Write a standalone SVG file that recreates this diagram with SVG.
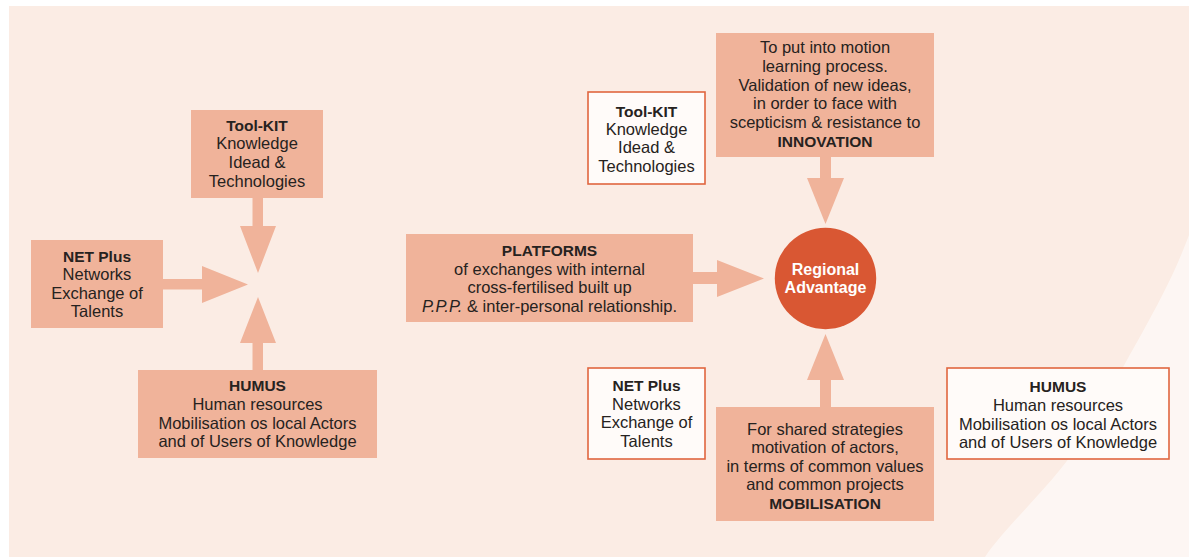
<svg xmlns="http://www.w3.org/2000/svg" width="1189" height="557" viewBox="0 0 1189 557">
<style>
  text { font-family: "Liberation Sans", Arial, sans-serif; font-size: 16.5px; fill: #262220; text-anchor: middle; }
  .b { font-weight: bold; font-size: 15.5px; }
  .w { fill: #ffffff; font-weight: bold; font-size: 16px; }
  .fill { fill: #f0b39a; }
  .outl { fill: #fffbf9; stroke: #e0663f; stroke-width: 1.6; }
  .arrow { fill: #f0b39a; }
</style>
<rect x="0" y="0" width="1189" height="557" fill="#ffffff"/>
<rect x="9" y="6" width="1180" height="551" fill="#fbece4"/>
<path d="M1189,235 C1165,300 1130,350 1095,420 C1060,480 1010,520 985,557 L1189,557 Z" fill="#ffffff" opacity="0.55"/>

<g id="connectors">
  <polygon class="arrow" points="252.5,197 263,197 263,226 276,226 258,273 240,226 252.5,226"/>
  <polygon class="arrow" points="163,279 202,279 202,266 248,284.5 202,303 202,289.5 163,289.5"/>
  <polygon class="arrow" points="252.5,371 263,371 263,343 276,343 258,297 240,343 252.5,343"/>
  <polygon class="arrow" points="820,156 831,156 831,178 844,178 825.5,224 807,178 820,178"/>
  <polygon class="arrow" points="693,272 717,272 717,260 764,278.5 717,297 717,284 693,284"/>
  <polygon class="arrow" points="820,408 831,408 831,380 844,380 825.5,334 807,380 820,380"/>
</g>

<g id="toolkit-left">
  <rect class="fill" x="191" y="110" width="132" height="88"/>
  <text x="257" y="130.5" class="b">Tool-KIT</text>
  <text x="257" y="149.3">Knowledge</text>
  <text x="257" y="168">Idead &amp;</text>
  <text x="257" y="186.7">Technologies</text>
</g>

<g id="netplus-left">
  <rect class="fill" x="31" y="240" width="132" height="88"/>
  <text x="97" y="261.5" class="b">NET Plus</text>
  <text x="97" y="280">Networks</text>
  <text x="97" y="298.7">Exchange of</text>
  <text x="97" y="317.3">Talents</text>
</g>

<g id="humus-left">
  <rect class="fill" x="138" y="370" width="239" height="88"/>
  <text x="257.5" y="390.7" class="b">HUMUS</text>
  <text x="257.5" y="409.6">Human resources</text>
  <text x="257.5" y="428.6">Mobilisation os local Actors</text>
  <text x="257.5" y="447.3">and of Users of Knowledge</text>
</g>

<g id="toolkit-right">
  <rect class="outl" x="588" y="92" width="117" height="92"/>
  <text x="646.5" y="116.5" class="b">Tool-KIT</text>
  <text x="646.5" y="134.8">Knowledge</text>
  <text x="646.5" y="153.3">Idead &amp;</text>
  <text x="646.5" y="171.8">Technologies</text>
</g>

<g id="innovation">
  <rect class="fill" x="716" y="33" width="218" height="124"/>
  <text x="825" y="53.3">To put into motion</text>
  <text x="825" y="71.8">learning process.</text>
  <text x="825" y="90.5">Validation of new ideas,</text>
  <text x="825" y="109">in order to face with</text>
  <text x="825" y="127.7">scepticism &amp; resistance to</text>
  <text x="825" y="146.5" class="b">INNOVATION</text>
</g>

<g id="platforms">
  <rect class="fill" x="406" y="234" width="287" height="88"/>
  <text x="549.5" y="256" class="b">PLATFORMS</text>
  <text x="549.5" y="274.5">of exchanges with internal</text>
  <text x="549.5" y="293.2">cross-fertilised built up</text>
  <text x="549.5" y="312"><tspan font-style="italic">P.P.P.</tspan> &amp; inter-personal relationship.</text>
</g>

<g id="regional-advantage">
  <circle cx="825.5" cy="278.5" r="50.7" fill="#d95733"/>
  <text x="825.5" y="275" class="w">Regional</text>
  <text x="825.5" y="293" class="w">Advantage</text>
</g>

<g id="netplus-right">
  <rect class="outl" x="588" y="368" width="117" height="91"/>
  <text x="646.5" y="391" class="b">NET Plus</text>
  <text x="646.5" y="409.8">Networks</text>
  <text x="646.5" y="428.3">Exchange of</text>
  <text x="646.5" y="446.8">Talents</text>
</g>

<g id="mobilisation">
  <rect class="fill" x="716" y="407" width="218" height="114"/>
  <text x="825" y="434.5">For shared strategies</text>
  <text x="825" y="453">motivation of actors,</text>
  <text x="825" y="471.7">in terms of common values</text>
  <text x="825" y="490.2">and common projects</text>
  <text x="825" y="508.7" class="b">MOBILISATION</text>
</g>

<g id="humus-right">
  <rect class="outl" x="947" y="368" width="222" height="91"/>
  <text x="1058" y="392.3" class="b">HUMUS</text>
  <text x="1058" y="411">Human resources</text>
  <text x="1058" y="429.5">Mobilisation os local Actors</text>
  <text x="1058" y="448">and of Users of Knowledge</text>
</g>
</svg>
